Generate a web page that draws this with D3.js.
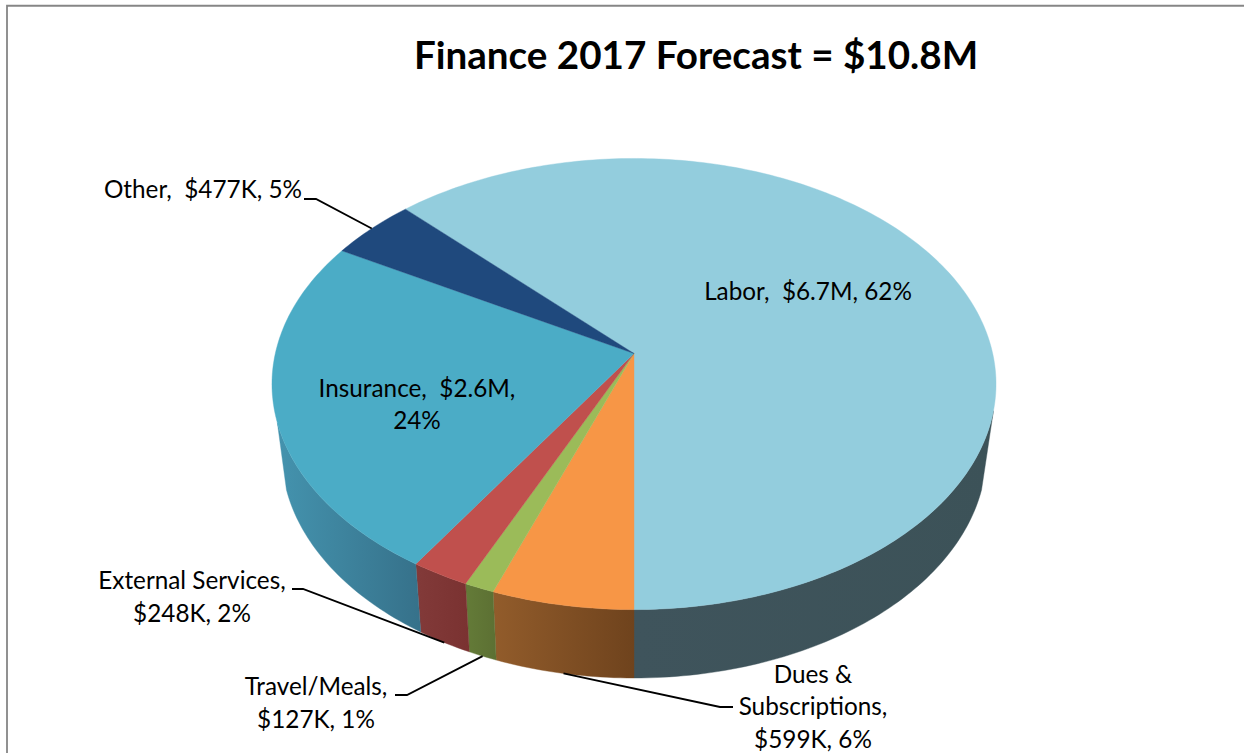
<!DOCTYPE html>
<html><head><meta charset="utf-8">
<script src="https://cdn.jsdelivr.net/npm/d3@7/dist/d3.min.js"></script>
<style>html,body{margin:0;padding:0;background:#fff;overflow:hidden}svg{display:block}text{font-family:Lato,"Noto Sans",sans-serif;fill:#000;white-space:pre}</style>
</head><body><svg id="c" width="1244" height="753"></svg>
<script>
// Data (clockwise from the start of the Labor slice), in $K
const categories = ["Labor","Dues & Subscriptions","Travel/Meals","External Services","Insurance","Other"];
const values = [6700,599,127,248,2600,477];
const labelLines = [
  ["Labor,  $6.7M, 62%"],
  ["Dues &","Subscriptions,","$599K, 6%"],
  ["Travel/Meals,","$127K, 1%"],
  ["External Services,","$248K, 2%"],
  ["Insurance,  $2.6M,","24%"],
  ["Other,  $477K, 5%"]
];
const titleText = "Finance 2017 Forecast = $10.8M";

// Styles and layout
const topColors = ["#93cddd","#f79646","#9bbb59","#c0504d","#4bacc6","#1f497d"];
const sideStops = [["#3c5258","#3f545c"],["#6f431d","#925c2b"],["#5c7033","#647b38"],["#7a3231","#823a39"],["#36718a","#4493ae"],["#1f497d","#1f497d"]];
const labelLayout = [
  {x:808,y:300,step:0},
  {x:813,y:682.5,step:32.5},
  {x:316,y:695,step:33},
  {x:192,y:589,step:33},
  {x:417,y:397,step:32},
  {x:203,y:198,step:0}
];
const leaderLayout = {
  1:{rim:"bottom",elbow:[720,707],tail:[733,707]},
  2:{rim:"bottom",elbow:[407,695],tail:[395,695]},
  3:{rim:"bottom",elbow:[303,589],tail:[292,589]},
  5:{rim:"top",elbow:[316,199],tail:[304,199]}
};
const cx = 634;
const topRim = {R:358.7,A:173.6,B:353.5,C:-0.1353};
const bottomRim = {R:349,A:162.4,B:420.7,C:-0.14};

function project(a, rim){
  const u = Math.sin(a), v = -Math.cos(a), d = 1 + rim.C*v;
  return [cx + rim.R*u/d, (rim.A*v + rim.B)/d];
}
function arcPoints(a0, a1, rim){
  const n = Math.max(2, Math.ceil(Math.abs(a1-a0)/(Math.PI/180)));
  return d3.range(n+1).map(i => project(a0 + (a1-a0)*i/n, rim));
}

const svg = d3.select("#c");
const line = d3.line();
const frac = values[0]/d3.sum(values)*2*Math.PI;
const arcs = d3.pie().sort(null).startAngle(Math.PI-frac).endAngle(Math.PI-frac+2*Math.PI)(values);

// chart border (left and top only visible)
svg.append("path").attr("d",line([[7,753],[7,5.75],[1244,5.75]])).attr("fill","none").attr("stroke","#868686").attr("stroke-width",1.8);

// side walls: the visible wall runs between separate limits on the top and bottom rims
const defs = svg.append("defs");
const topMin = Math.PI - Math.acos(0.25), topMax = Math.PI + Math.acos(0.30);
const botMin = Math.PI - Math.acos(0.30), botMax = Math.PI + Math.acos(0.30);
const gWall = svg.append("g");
arcs.forEach((d,i)=>{
  if(Math.min(d.endAngle,botMax) <= Math.max(d.startAngle,botMin)) return;
  const t = arcPoints(Math.max(d.startAngle,topMin), Math.min(d.endAngle,topMax), topRim);
  const b = arcPoints(Math.max(d.startAngle,botMin), Math.min(d.endAngle,botMax), bottomRim);
  const pts = t.concat(b.reverse());
  const xs = d3.extent(pts,p=>p[0]);
  const g = defs.append("linearGradient").attr("id","w"+i).attr("gradientUnits","userSpaceOnUse")
    .attr("x1",xs[1]).attr("x2",xs[0]).attr("y1",0).attr("y2",0);
  g.append("stop").attr("offset",0).attr("stop-color",sideStops[i][0]);
  g.append("stop").attr("offset",1).attr("stop-color",sideStops[i][1]);
  gWall.append("path").attr("d",line(pts)+"Z").attr("fill",`url(#w${i})`).attr("stroke",`url(#w${i})`).attr("stroke-width",0.4);
});

// top faces
svg.append("g").selectAll("path").data(arcs).join("path")
  .attr("d",d=>line([[cx,topRim.B]].concat(arcPoints(d.startAngle,d.endAngle,topRim)))+"Z")
  .attr("fill",(d,i)=>topColors[i]).attr("stroke",(d,i)=>topColors[i]).attr("stroke-width",0.4);

// leader lines, anchored at each slice's mid angle on the rim
Object.keys(leaderLayout).forEach(k=>{
  const l = leaderLayout[k], d = arcs[+k];
  const p = project((d.startAngle+d.endAngle)/2, l.rim==="top"?topRim:bottomRim);
  svg.append("path").attr("d",line([p,l.elbow,l.tail])).attr("fill","none").attr("stroke","#000").attr("stroke-width",1.8);
});

// labels
const labelSize = 24.3;
labelLines.forEach((lines,i)=>{
  const L = labelLayout[i];
  lines.forEach((s,j)=>{
    svg.append("text").attr("x",L.x).attr("y",L.y+j*L.step).attr("text-anchor","middle")
      .attr("font-size",labelSize).attr("xml:space","preserve").text(s);
  });
});
svg.append("text").attr("x",696).attr("y",69).attr("text-anchor","middle")
  .attr("font-size",38.6).attr("font-weight",700).text(titleText);
</script></body></html>
